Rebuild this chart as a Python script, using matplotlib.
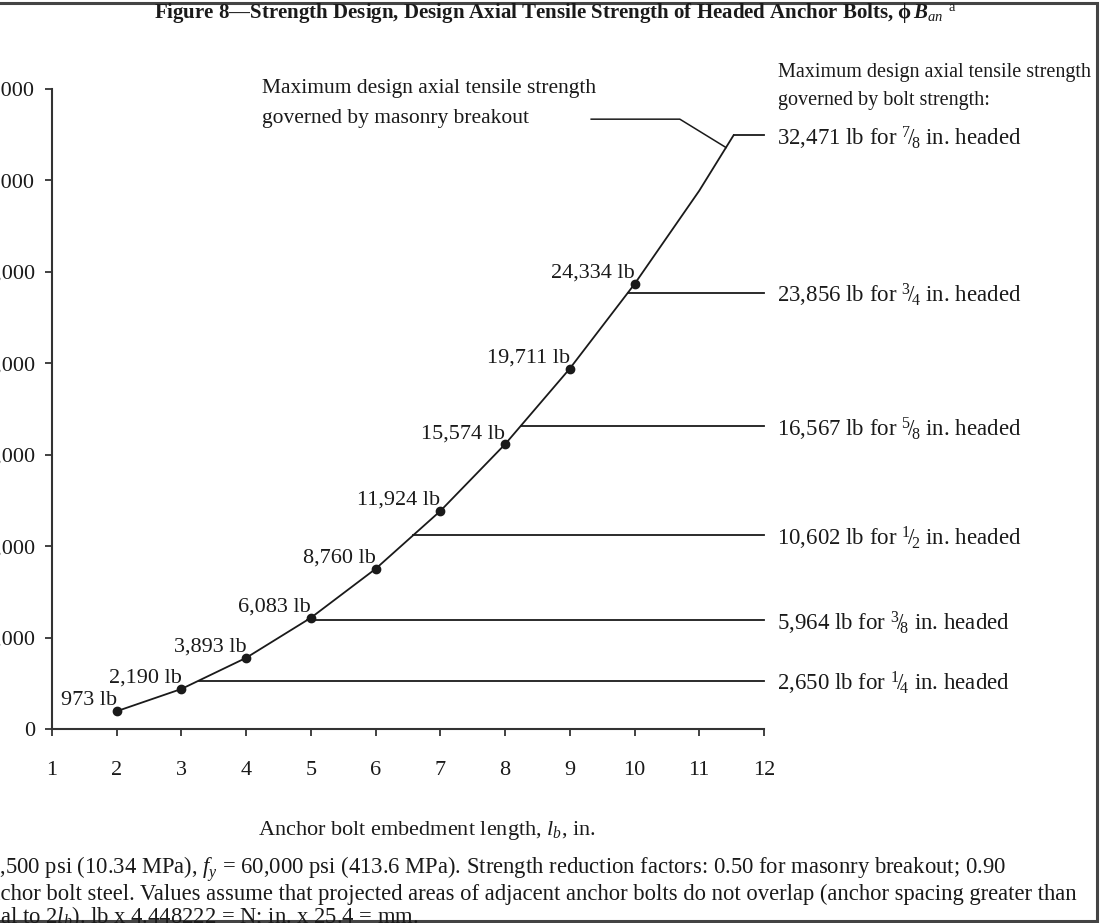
import numpy as np
import matplotlib
matplotlib.use("Agg")
import matplotlib.pyplot as plt
from matplotlib.patches import Rectangle

plt.rcParams['font.family'] = ['Liberation Serif', 'DejaVu Serif']
plt.rcParams['mathtext.fontset'] = 'custom'
plt.rcParams['mathtext.rm'] = 'Liberation Serif'
plt.rcParams['mathtext.it'] = 'Liberation Serif:italic'
plt.rcParams['mathtext.bf'] = 'Liberation Serif:bold'
plt.rcParams['mathtext.bfit'] = 'Liberation Serif:italic:bold'

# --- data ---
embed_len = [2, 3, 4, 5, 6, 7, 8, 9, 10]
breakout = [973, 2190, 3893, 6083, 8760, 11924, 15574, 19711, 24334]
point_labels = ["973 lb", "2,190 lb", "3,893 lb", "6,083 lb", "8,760 lb",
                "11,924 lb", "15,574 lb", "19,711 lb", "24,334 lb"]
# curve keeps going past the last marked point up to the bolt cap
curve_x = embed_len + [11, 11.53]
curve_y = breakout + [29440, 32471]

bolt_strength = [2650, 5964, 10602, 16567, 23856, 32471]
bolt_labels = [r"2,650 lb for $^{1}\!/\!_{4}$ in. headed",
               r"5,964 lb for $^{3}\!/\!_{8}$ in. headed",
               r"10,602 lb for $^{1}\!/\!_{2}$ in. headed",
               r"16,567 lb for $^{5}\!/\!_{8}$ in. headed",
               r"23,856 lb for $^{3}\!/\!_{4}$ in. headed",
               r"32,471 lb for $^{7}\!/\!_{8}$ in. headed"]

x_ticks = list(range(1, 13))
y_ticks = list(range(0, 35001, 5000))

W, H = 1102, 923
fig = plt.figure(figsize=(W / 100, H / 100), dpi=100)
ax = fig.add_axes([52 / W, 1 - 729 / H, (764 - 52) / W, (729 - 89) / H])

ink = '#1a1a1a'
fs = 16

# curve + points
ax.plot(curve_x, curve_y, color=ink, lw=1.3, clip_on=False)
ax.plot(embed_len, breakout, 'o', color=ink, ms=6, clip_on=False)
for xx, yy, lab in zip(embed_len, breakout, point_labels):
    ax.annotate(lab, (xx, yy), xytext=(0, 6), textcoords='offset pixels',
                ha='right', va='baseline', fontsize=fs, color=ink)

# bolt strength caps: horizontal from the curve to x = 12
for yy, lab in zip(bolt_strength, bolt_labels):
    x0 = np.interp(yy, curve_y, curve_x)
    ax.plot([x0, 12], [yy, yy], color=ink, lw=1.3, clip_on=False)
    ax.annotate(lab, (12, yy), xytext=(13, -3), textcoords='offset pixels',
                ha='left', va='center', fontsize=16.5, color=ink,
                annotation_clip=False)

# leader for masonry breakout note
lead_y = 31800
lead_x = np.interp(lead_y, curve_y, curve_x)
ax.plot([9.33, 10.70, lead_x], [33350, 33350, lead_y], color=ink, lw=1.1,
        clip_on=False)

ax.set_xlim(1, 12)
ax.set_ylim(0, 35000)
ax.set_xticks(x_ticks)
ax.set_yticks(y_ticks)
ax.set_yticklabels([f"{v:,}" for v in y_ticks])
ax.tick_params(direction='out', length=5, width=1.3, color='#333333',
               labelsize=fs, labelcolor=ink, pad=7)
ax.tick_params(axis='x', pad=18)
for s in ['top', 'right']:
    ax.spines[s].set_visible(False)
for s in ['left', 'bottom']:
    ax.spines[s].set_linewidth(1.5)
    ax.spines[s].set_color('#333333')

fig.text(427 / W, 1 - 830 / H, r"Anchor bolt embedment length, $l_b$, in.",
         ha='center', va='center', fontsize=fs, color=ink)

# title and notes
fig.text(555 / W, 1 - 13 / H,
         r"Figure 8—Strength Design, Design Axial Tensile Strength of Headed Anchor Bolts, "
         r"$\mathbf{\phi}\,\mathbfit{B}_{\mathit{an}}$ $^{\rm a}$",
         ha='center', va='center', fontsize=15, fontweight='bold', color=ink)

fig.text(262 / W, 1 - 88 / H, "Maximum design axial tensile strength",
         ha='left', va='center', fontsize=15.5, color=ink)
fig.text(262 / W, 1 - 118 / H, "governed by masonry breakout",
         ha='left', va='center', fontsize=15.5, color=ink)
fig.text(778 / W, 1 - 73 / H, "Maximum design axial tensile strength",
         ha='left', va='center', fontsize=14.5, color=ink)
fig.text(778 / W, 1 - 101 / H, "governed by bolt strength:",
         ha='left', va='center', fontsize=14.5, color=ink)

# footnote: the left part runs off the picture edge
ffs = 16.3
renderer = fig.canvas.get_renderer()
foot = [(r"$^{\rm a}\ f'_{m}$ = 1",
         r",500 psi (10.34 MPa), $f_y$ = 60,000 psi (413.6 MPa). Strength reduction factors: 0.50 for masonry breakout; 0.90", 868),
        ("for an",
         "chor bolt steel. Values assume that projected areas of adjacent anchor bolts do not overlap (anchor spacing greater than", 894),
        ("or equ", r"al to 2$l_b$). lb x 4.448222 = N; in. x 25.4 = mm.", 917)]
for pre, rest, ypx in foot:
    t = fig.text(0, 0, pre, fontsize=ffs)
    w = t.get_window_extent(renderer).width
    t.remove()
    fig.text(-w / W, 1 - ypx / H, pre + rest, ha='left', va='center',
             fontsize=ffs, color=ink)

fig.patches.append(Rectangle((-0.01, 1 - 921 / H), 1097 / W + 0.01, (921 - 3) / H,
                             transform=fig.transFigure, fill=False,
                             edgecolor='#444444', lw=2.2))

fig.savefig("out.png", dpi=100, facecolor='white')
